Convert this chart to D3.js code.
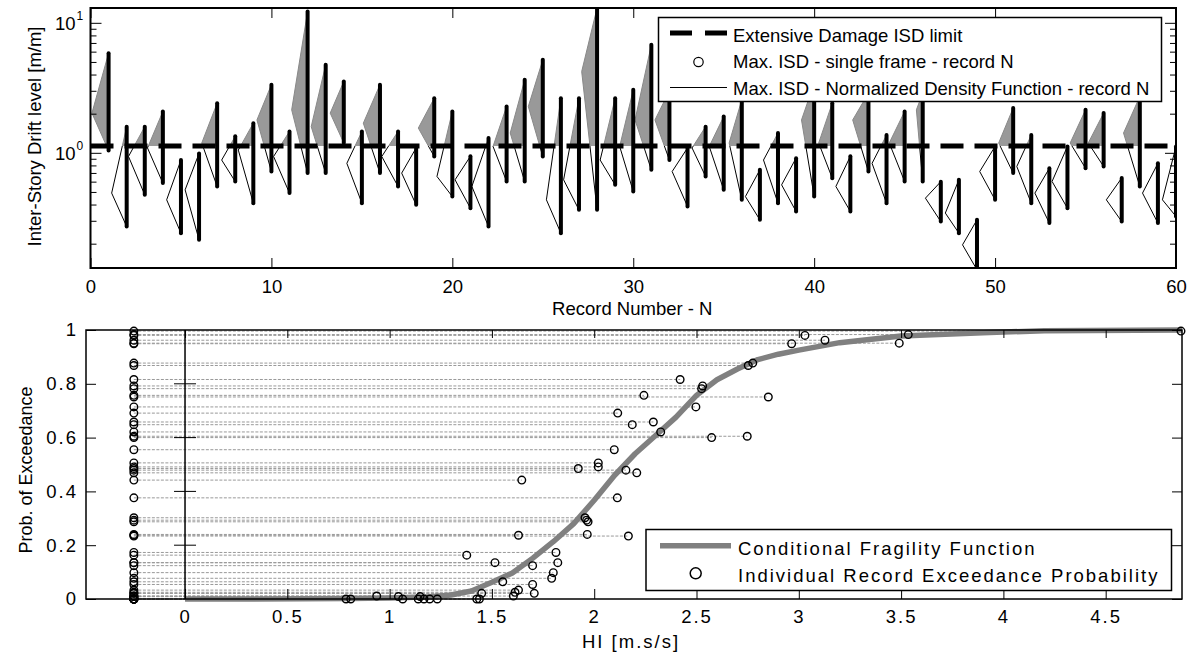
<!DOCTYPE html>
<html>
<head>
<meta charset="utf-8">
<script src="https://cdn.jsdelivr.net/npm/d3@7"></script>
<style>
	body { margin: 0; background: #fff; }
	svg { display: block; font-family: "Liberation Sans", Arial, sans-serif; }
</style>
</head>
<body>
<svg id="chart" width="1190" height="655"></svg>
<script>
// ---- top panel data: max ISD per record ----
const recordN = [1, 2, 3, 4, 5, 6, 7, 8, 9, 10, 11, 12, 13, 14, 15, 16, 17, 18, 19, 20,
	21, 22, 23, 24, 25, 26, 27, 28, 29, 30, 31, 32, 33, 34, 35, 36, 37, 38, 39, 40,
	41, 42, 43, 44, 45, 46, 47, 48, 49, 50, 51, 52, 53, 54, 55, 56, 57, 58, 59, 60];
// highest and lowest single-frame ISD of each record
const isdMax = [5.84, 1.59, 1.59, 2.08, 0.88, 0.99, 2.41, 1.34, 1.69, 3.34,
	1.46, 12.2, 4.75, 3.54, 1.46, 3.34, 1.46, 1.09, 2.63, 2.08,
	0.94, 1.3, 2.27, 3.64, 5.19, 2.63, 2.63, 13.0, 2.63, 3.05,
	6.77, 3.0, 1.09, 1.59, 1.9, 2.56, 0.74, 1.42, 0.91, 3.43,
	2.41, 0.94, 2.88, 1.37, 2.08, 2.88, 0.6, 0.62, 0.305, 1.12,
	2.21, 1.37, 0.76, 1.12, 2.14, 2.02, 0.64, 2.71, 0.83, 1.12];
const isdMin = [1.04, 0.271, 0.475, 0.585, 0.241, 0.214, 0.551, 0.602, 0.41, 0.718,
	0.49, 0.698, 0.698, 1.19, 0.41, 0.698, 0.551, 0.398, 0.937, 0.461,
	0.375, 0.271, 0.602, 0.602, 0.937, 0.241, 0.364, 0.364, 0.567, 0.504,
	0.74, 0.88, 0.387, 0.658, 0.519, 0.435, 0.305, 0.41, 0.354, 0.461,
	0.638, 0.354, 0.718, 0.41, 0.602, 0.602, 0.296, 0.241, 0.126, 0.435,
	0.698, 0.41, 0.288, 0.375, 0.762, 0.785, 0.296, 0.551, 0.288, 0.324];
// density peak (ISD) and its normalized height (in record units)
const pdfMode = [2.02, 0.49, 0.937, 1.09, 0.435, 0.519, 1.19, 0.88, 1.05, 1.79,
	0.937, 2.14, 1.59, 2.02, 0.83, 1.69, 0.937, 0.698, 1.55, 0.658,
	0.62, 0.551, 1.12, 1.42, 2.27, 0.435, 0.62, 4.22, 0.88, 1.12,
	1.79, 1.79, 0.718, 1.09, 1.12, 1.19, 0.461, 0.88, 0.567, 1.79,
	1.19, 0.551, 1.79, 0.83, 1.19, 2.14, 0.448, 0.344, 0.196, 0.718,
	1.19, 0.785, 0.49, 0.602, 1.19, 1.19, 0.435, 1.42, 0.49, 0.435];
const pdfWidth = [0.92, 0.83, 0.9, 0.85, 0.79, 0.77, 0.85, 0.75, 0.83, 0.8,
	0.88, 0.88, 0.8, 0.75, 0.83, 0.92, 0.9, 0.8, 0.88, 0.85,
	0.85, 0.92, 0.75, 0.8, 0.8, 0.8, 0.85, 0.85, 0.83, 0.75,
	0.9, 0.8, 0.85, 0.75, 0.8, 0.7, 0.8, 0.8, 0.8, 0.7,
	0.75, 0.8, 0.87, 0.8, 0.85, 0.35, 0.85, 0.75, 0.8, 0.85,
	0.8, 0.8, 0.8, 0.85, 0.85, 0.85, 0.85, 0.9, 0.85, 0.75];
const isdLimit = 1.13;

const xTopTicks = [0, 10, 20, 30, 40, 50, 60];
const yTopMinor = [0.2, 0.3, 0.4, 0.5, 0.6, 0.7, 0.8, 0.9, 2, 3, 4, 5, 6, 7, 8, 9];
const yTopMajor = [1, 10];

// ---- bottom panel data: HI vs exceedance probability ----
const recordHI = [4.868, 3.535, 3.03, 3.128, 3.491, 2.965, 2.753, 2.775, 2.42, 2.53,
	2.525, 2.243, 2.851, 2.497, 2.115, 2.289, 2.186, 2.325, 2.574, 2.748,
	2.098, 2.02, 2.02, 1.922, 2.155, 2.208, 1.646, 2.113, 1.955, 1.963,
	1.97, 1.63, 1.966, 2.167, 1.377, 1.813, 1.515, 1.822, 1.699, 1.8,
	1.792, 1.553, 1.699, 1.63, 1.707, 1.613, 1.605, 1.45, 1.426, 1.439,
	1.043, 1.064, 1.149, 1.14, 1.168, 1.196, 1.233, 0.787, 0.81, 0.937];
const recordProb = [0.996, 0.983, 0.98, 0.962, 0.951, 0.949, 0.868, 0.877, 0.816, 0.792,
	0.782, 0.757, 0.751, 0.714, 0.691, 0.658, 0.648, 0.621, 0.6, 0.605,
	0.555, 0.506, 0.491, 0.485, 0.479, 0.469, 0.442, 0.376, 0.302, 0.293,
	0.287, 0.237, 0.24, 0.234, 0.163, 0.173, 0.135, 0.135, 0.124, 0.098,
	0.077, 0.064, 0.054, 0.033, 0.021, 0.025, 0.011, 0.021, 0, 0,
	0.009, 0, 0.009, 0, 0, 0, 0, 0, 0, 0.011];
const fragHI = [0, 0.33, 0.8, 1.0, 1.2, 1.3, 1.4, 1.5, 1.6, 1.7, 1.8, 1.9, 2.0, 2.1, 2.2,
	2.3, 2.4, 2.5, 2.6, 2.7, 2.8, 2.9, 3.0, 3.2, 3.5, 3.9, 4.2, 4.873];
const fragP = [0, 0, 0.002, 0.004, 0.008, 0.015, 0.03, 0.062, 0.097, 0.152, 0.213, 0.28, 0.367, 0.46, 0.54,
	0.608, 0.676, 0.757, 0.815, 0.855, 0.89, 0.91, 0.925, 0.953, 0.978, 0.99, 0.997, 1.0];
const probColumnHI = -0.25;

const xBotTicks = [0, 0.5, 1, 1.5, 2, 2.5, 3, 3.5, 4, 4.5];
const yBotTicks = [0, 0.2, 0.4, 0.6, 0.8, 1];
const yBotMid = [0.2, 0.4, 0.6, 0.8];

var svg = d3.select("#chart");
svg.append("rect").attr("width", 1190).attr("height", 655).attr("fill", "#fff");

// =================== Top panel ===================
var tp = { left: 90.5, right: 1176, top: 8, bottom: 268 };
var xTop = d3.scaleLinear().domain([0, 60]).range([tp.left, tp.right]);
var yTop = d3.scaleLog().domain([0.13, 13]).range([tp.bottom, tp.top]);
var limitY = yTop(isdLimit);

var defs = svg.append("defs");
defs.append("clipPath").attr("id", "clipTop").append("rect")
	.attr("x", tp.left).attr("y", tp.top)
	.attr("width", tp.right - tp.left).attr("height", tp.bottom - tp.top);
defs.append("clipPath").attr("id", "clipAbove").append("rect")
	.attr("x", tp.left).attr("y", tp.top)
	.attr("width", tp.right - tp.left).attr("height", limitY - tp.top);
defs.append("clipPath").attr("id", "clipBelow").append("rect")
	.attr("x", tp.left).attr("y", limitY)
	.attr("width", tp.right - tp.left).attr("height", tp.bottom - limitY);

var pdfLine = d3.line()
	.x(function (d) { return xTop(d[0]); })
	.y(function (d) { return yTop(d[1]); });

var pdfShapes = recordN.map(function (n, i) {
	return [[n, isdMax[i]], [n - pdfWidth[i], pdfMode[i]], [n, isdMin[i]]];
});

// density part above the limit: grey filled
svg.append("g").attr("clip-path", "url(#clipAbove)")
	.selectAll("path").data(pdfShapes).enter().append("path")
	.attr("d", function (d) { return pdfLine(d) + "Z"; })
	.attr("fill", "#999")
	.attr("stroke", "#888")
	.attr("stroke-width", 1);

// density part below the limit: thin black outline
svg.append("g").attr("clip-path", "url(#clipBelow)")
	.selectAll("path").data(pdfShapes).enter().append("path")
	.attr("d", function (d) { return pdfLine(d); })
	.attr("fill", "none")
	.attr("stroke", "#000")
	.attr("stroke-width", 1);

// single frame max ISD columns
svg.append("g").attr("clip-path", "url(#clipTop)")
	.selectAll("line").data(recordN).enter().append("line")
	.attr("x1", function (d) { return xTop(d); })
	.attr("x2", function (d) { return xTop(d); })
	.attr("y1", function (d, i) { return yTop(isdMax[i]); })
	.attr("y2", function (d, i) { return yTop(isdMin[i]); })
	.attr("stroke", "#000")
	.attr("stroke-width", 4)
	.attr("stroke-linecap", "round");

// extensive damage limit
svg.append("line")
	.attr("x1", tp.left).attr("x2", tp.right)
	.attr("y1", limitY).attr("y2", limitY)
	.attr("stroke", "#000")
	.attr("stroke-width", 5)
	.attr("stroke-dasharray", "23,11");

// axes (ticks inward, matlab style)
function styleAxis(g, size) {
	g.select(".domain").remove();
	g.attr("font-family", null).attr("font-size", size);
	g.selectAll(".tick line").attr("stroke", "#000").attr("stroke-width", 1);
	g.selectAll(".tick text").attr("fill", "#000");
}

svg.append("g")
	.attr("transform", "translate(0," + tp.bottom + ")")
	.call(d3.axisBottom(xTop).tickValues(xTopTicks).tickSize(-10).tickPadding(12))
	.call(styleAxis, 18.5);
svg.append("g")
	.attr("transform", "translate(0," + tp.top + ")")
	.call(d3.axisTop(xTop).tickValues(xTopTicks).tickSize(-10).tickFormat(""))
	.call(styleAxis, 18.5);
svg.append("g")
	.attr("transform", "translate(" + tp.left + ",0)")
	.call(d3.axisLeft(yTop).tickValues(yTopMinor).tickSize(-6).tickFormat(""))
	.call(styleAxis, 18.5);
svg.append("g")
	.attr("transform", "translate(" + tp.left + ",0)")
	.call(d3.axisLeft(yTop).tickValues(yTopMajor).tickSize(-11).tickFormat(""))
	.call(styleAxis, 18.5);
svg.append("g")
	.attr("transform", "translate(" + tp.right + ",0)")
	.call(d3.axisRight(yTop).tickValues(yTopMinor).tickSize(-6).tickFormat(""))
	.call(styleAxis, 18.5);
svg.append("g")
	.attr("transform", "translate(" + tp.right + ",0)")
	.call(d3.axisRight(yTop).tickValues(yTopMajor).tickSize(-11).tickFormat(""))
	.call(styleAxis, 18.5);

// 10^n labels
var powLabels = svg.append("g").selectAll("g").data(yTopMajor).enter().append("g");
powLabels.append("text")
	.attr("x", 75.5)
	.attr("y", function (d) { return yTop(d) + 7; })
	.attr("text-anchor", "end")
	.attr("font-size", 18.5)
	.text("10");
powLabels.append("text")
	.attr("x", 76.5)
	.attr("y", function (d) { return yTop(d) - 3; })
	.attr("font-size", 12)
	.text(function (d) { return Math.round(Math.log10(d)); });

svg.append("rect")
	.attr("x", tp.left).attr("y", tp.top)
	.attr("width", tp.right - tp.left).attr("height", tp.bottom - tp.top)
	.attr("fill", "none").attr("stroke", "#000").attr("stroke-width", 2);

svg.append("text")
	.attr("x", (tp.left + tp.right) / 2 - 1)
	.attr("y", 315)
	.attr("text-anchor", "middle")
	.attr("font-size", 18.5)
	.text("Record Number - N");
svg.append("text")
	.attr("transform", "translate(41," + 136.5 + ") rotate(-90)")
	.attr("text-anchor", "middle")
	.attr("font-size", 18.5)
	.text("Inter-Story Drift level [m/m]");

// top legend
var lg = svg.append("g");
lg.append("rect")
	.attr("x", 658.5).attr("y", 17.5).attr("width", 503).attr("height", 84)
	.attr("fill", "#fff").attr("stroke", "#000").attr("stroke-width", 1.5);
lg.append("line")
	.attr("x1", 670).attr("x2", 727).attr("y1", 33).attr("y2", 33)
	.attr("stroke", "#000").attr("stroke-width", 5).attr("stroke-dasharray", "22,13");
lg.append("circle")
	.attr("cx", 698.5).attr("cy", 62).attr("r", 4.7)
	.attr("fill", "none").attr("stroke", "#000").attr("stroke-width", 1.2);
lg.append("line")
	.attr("x1", 670).attr("x2", 727).attr("y1", 87.5).attr("y2", 87.5)
	.attr("stroke", "#000").attr("stroke-width", 1);
lg.selectAll("text")
	.data(["Extensive Damage ISD limit", "Max. ISD - single frame - record N",
		"Max. ISD - Normalized Density Function - record N"])
	.enter().append("text")
	.attr("x", 733)
	.attr("y", function (d, i) { return 41.5 + i * 26.5; })
	.attr("font-size", 18.5)
	.text(function (d) { return d; });

// =================== Bottom panel ===================
var bp = { left: 86, right: 1182, top: 330, bottom: 599 };
var xBot = d3.scaleLinear().domain([-0.484, 4.873]).range([bp.left, bp.right]);
var yBot = d3.scaleLinear().domain([0, 1]).range([bp.bottom, bp.top]);

// dashed lines from probability column to each record
svg.append("g").selectAll("line").data(recordHI).enter().append("line")
	.attr("x1", xBot(probColumnHI))
	.attr("x2", function (d) { return xBot(d); })
	.attr("y1", function (d, i) { return yBot(recordProb[i]); })
	.attr("y2", function (d, i) { return yBot(recordProb[i]); })
	.attr("stroke", "#999")
	.attr("stroke-width", 1)
	.attr("stroke-dasharray", "3,1.5");

// axis line at HI = 0
svg.append("line")
	.attr("x1", xBot(0)).attr("x2", xBot(0))
	.attr("y1", yBot(0)).attr("y2", yBot(1))
	.attr("stroke", "#000").attr("stroke-width", 1.5);
svg.append("g").selectAll("line").data(yBotMid).enter().append("line")
	.attr("x1", xBot(0) - 11).attr("x2", xBot(0) + 11)
	.attr("y1", function (d) { return yBot(d); })
	.attr("y2", function (d) { return yBot(d); })
	.attr("stroke", "#000").attr("stroke-width", 1);

// conditional fragility function
var fragLine = d3.line()
	.x(function (d) { return xBot(d[0]); })
	.y(function (d) { return yBot(d[1]); });
svg.append("path")
	.attr("d", fragLine(fragHI.map(function (h, i) { return [h, fragP[i]]; })))
	.attr("fill", "none")
	.attr("stroke", "#808080")
	.attr("stroke-width", 5.5)
	.attr("stroke-linejoin", "round");

// record circles: probability column and record HI
svg.append("g").selectAll("circle").data(recordProb).enter().append("circle")
	.attr("cx", xBot(probColumnHI))
	.attr("cy", function (d) { return yBot(d); })
	.attr("r", 3.8)
	.attr("fill", "none").attr("stroke", "#000").attr("stroke-width", 1.4);
svg.append("g").selectAll("circle").data(recordHI).enter().append("circle")
	.attr("cx", function (d) { return xBot(d); })
	.attr("cy", function (d, i) { return yBot(recordProb[i]); })
	.attr("r", 3.8)
	.attr("fill", "none").attr("stroke", "#000").attr("stroke-width", 1.4);

function spaced(g) {
	g.selectAll(".tick text").attr("letter-spacing", "2px");
}
svg.append("g")
	.attr("transform", "translate(0," + bp.bottom + ")")
	.call(d3.axisBottom(xBot).tickValues(xBotTicks).tickSize(-10).tickPadding(11)
		.tickFormat(function (d) { return String(d); }))
	.call(styleAxis, 18.5).call(spaced);
svg.append("g")
	.attr("transform", "translate(0," + bp.top + ")")
	.call(d3.axisTop(xBot).tickValues(xBotTicks).tickSize(-8).tickFormat(""))
	.call(styleAxis, 18.5);
svg.append("g")
	.attr("transform", "translate(" + bp.left + ",0)")
	.call(d3.axisLeft(yBot).tickValues(yBotTicks).tickSize(-10).tickPadding(8)
		.tickFormat(function (d) { return String(d); }))
	.call(styleAxis, 18.5).call(spaced);
svg.append("g")
	.attr("transform", "translate(" + bp.right + ",0)")
	.call(d3.axisRight(yBot).tickValues(yBotTicks).tickSize(-10).tickFormat(""))
	.call(styleAxis, 18.5);

svg.append("rect")
	.attr("x", bp.left).attr("y", bp.top)
	.attr("width", bp.right - bp.left).attr("height", bp.bottom - bp.top)
	.attr("fill", "none").attr("stroke", "#000").attr("stroke-width", 1.5);

svg.append("text")
	.attr("x", 631)
	.attr("y", 648)
	.attr("text-anchor", "middle")
	.attr("font-size", 18.5)
	.attr("letter-spacing", "2px")
	.text("HI [m.s/s]");
svg.append("text")
	.attr("transform", "translate(31.5,470) rotate(-90)")
	.attr("text-anchor", "middle")
	.attr("font-size", 18)
	.text("Prob. of Exceedance");

// bottom legend
var lb = svg.append("g");
lb.append("rect")
	.attr("x", 646).attr("y", 529.5).attr("width", 525.5).attr("height", 61)
	.attr("fill", "#fff").attr("stroke", "#000").attr("stroke-width", 1.5);
lb.append("line")
	.attr("x1", 660).attr("x2", 731).attr("y1", 545.7).attr("y2", 545.7)
	.attr("stroke", "#808080").attr("stroke-width", 5.5);
lb.append("circle")
	.attr("cx", 695.7).attr("cy", 573.3).attr("r", 5.5)
	.attr("fill", "none").attr("stroke", "#000").attr("stroke-width", 1.5);
lb.selectAll("text")
	.data(["Conditional Fragility Function", "Individual Record Exceedance Probability"])
	.enter().append("text")
	.attr("x", 738)
	.attr("y", function (d, i) { return 555 + i * 27.3; })
	.attr("font-size", 18.5)
	.attr("letter-spacing", "2px")
	.text(function (d) { return d; });
</script>
</body>
</html>
